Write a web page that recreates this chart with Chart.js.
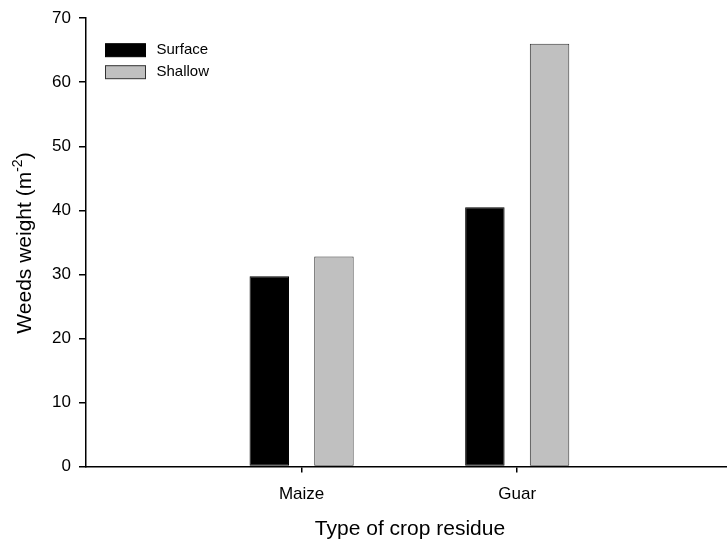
<!DOCTYPE html>
<html>
<head>
<meta charset="utf-8">
<script src="https://cdn.jsdelivr.net/npm/chart.js@4"></script>
<style>
  html, body { margin: 0; padding: 0; background: #fff; overflow: hidden; }
  #wrap { position: relative; width: 727px; height: 546px; }
</style>
</head>
<body>
<div id="wrap"><canvas id="chart" width="727" height="546"></canvas></div>
<script>
// Weed biomass by crop residue type and placement
const categories = ['Maize', 'Guar'];
const seriesNames = ['Surface', 'Shallow'];
const surfaceValues = [29.7, 40.5];
const shallowValues = [32.8, 66.0];
const yTicks = [0, 10, 20, 30, 40, 50, 60, 70];

const FONT = "'Liberation Sans', Arial, Helvetica, sans-serif";

// categories sit at x = 1, 2 on a numeric axis
const toPoints = vals => vals.map((v, i) => ({ x: i + 1, y: v }));

// legend drawn inside the plot area, top left
const insideLegend = {
  id: 'insideLegend',
  afterDraw(chart) {
    const ctx = chart.ctx;
    const area = chart.chartArea;
    ctx.save();
    ctx.font = '15px ' + FONT;
    ctx.textBaseline = 'middle';
    ctx.textAlign = 'left';
    chart.data.datasets.forEach((ds, i) => {
      const x = area.left + 19.5;
      const y = area.top + 25.5 + i * 22;
      ctx.fillStyle = ds.backgroundColor;
      ctx.fillRect(x, y, 40, 13);
      ctx.strokeStyle = ds.borderColor;
      ctx.lineWidth = 1;
      ctx.strokeRect(x, y, 40, 13);
      ctx.fillStyle = '#000';
      ctx.fillText(ds.label, x + 51, y + 6.5);
    });
    ctx.restore();
  }
};

// axis titles (the y title carries a superscript)
const axisTitles = {
  id: 'axisTitles',
  afterDraw(chart) {
    const ctx = chart.ctx;
    ctx.save();
    ctx.fillStyle = '#000';
    // x title
    ctx.font = '21px ' + FONT;
    ctx.textAlign = 'center';
    ctx.textBaseline = 'alphabetic';
    ctx.fillText('Type of crop residue', 410, 535);
    // y title
    const main = 'Weeds weight (m';
    const sup = '-2';
    const close = ')';
    ctx.font = '21px ' + FONT;
    const wMain = ctx.measureText(main).width;
    const wClose = ctx.measureText(close).width;
    ctx.font = '14px ' + FONT;
    const wSup = ctx.measureText(sup).width;
    const total = wMain + wSup + wClose;
    ctx.translate(31, 243);
    ctx.rotate(-Math.PI / 2);
    ctx.textAlign = 'left';
    let x = -total / 2;
    ctx.font = '21px ' + FONT;
    ctx.fillText(main, x, 0);
    x += wMain;
    ctx.font = '14px ' + FONT;
    ctx.fillText(sup, x, -9);
    x += wSup;
    ctx.font = '21px ' + FONT;
    ctx.fillText(close, x, 0);
    ctx.restore();
  }
};

new Chart(document.getElementById('chart'), {
  type: 'bar',
  data: {
    datasets: [
      {
        label: seriesNames[0],
        data: toPoints(surfaceValues),
        backgroundColor: '#000000',
        borderColor: '#000000',
        borderWidth: 1,
        borderSkipped: false
      },
      {
        label: seriesNames[1],
        data: toPoints(shallowValues),
        backgroundColor: '#c0c0c0',
        borderColor: '#333333',
        borderWidth: 1,
        borderSkipped: false
      }
    ]
  },
  options: {
    responsive: false,
    animation: false,
    categoryPercentage: 0.6,
    barPercentage: 0.61,
    layout: { padding: { top: 15, right: 0, bottom: 0, left: 0 } },
    plugins: {
      legend: { display: false },
      tooltip: { enabled: false }
    },
    scales: {
      x: {
        type: 'linear',
        offset: false,
        min: 0,
        max: 2.973,
        afterBuildTicks(scale) {
          scale.ticks = categories.map((c, i) => ({ value: i + 1 }));
        },
        afterFit(scale) { scale.height = 79.5; },
        ticks: {
          callback: v => categories[v - 1] || '',
          font: { family: FONT, size: 17 },
          color: '#000',
          padding: 12,
          maxRotation: 0
        },
        grid: {
          display: true,
          offset: false,
          drawOnChartArea: false,
          drawTicks: true,
          tickLength: 6,
          color: '#000',
          lineWidth: 1.5
        },
        border: { display: true, color: '#000', width: 1.5 }
      },
      y: {
        min: 0,
        max: 70,
        afterBuildTicks(scale) {
          scale.ticks = yTicks.map(v => ({ value: v }));
        },
        afterFit(scale) { scale.width = 86; },
        ticks: {
          font: { family: FONT, size: 17 },
          color: '#000',
          padding: 8
        },
        grid: {
          display: true,
          drawOnChartArea: false,
          drawTicks: true,
          tickLength: 7,
          color: '#000',
          lineWidth: 1.5
        },
        border: { display: true, color: '#000', width: 1.5 }
      }
    }
  },
  plugins: [insideLegend, axisTitles]
});
</script>
</body>
</html>
